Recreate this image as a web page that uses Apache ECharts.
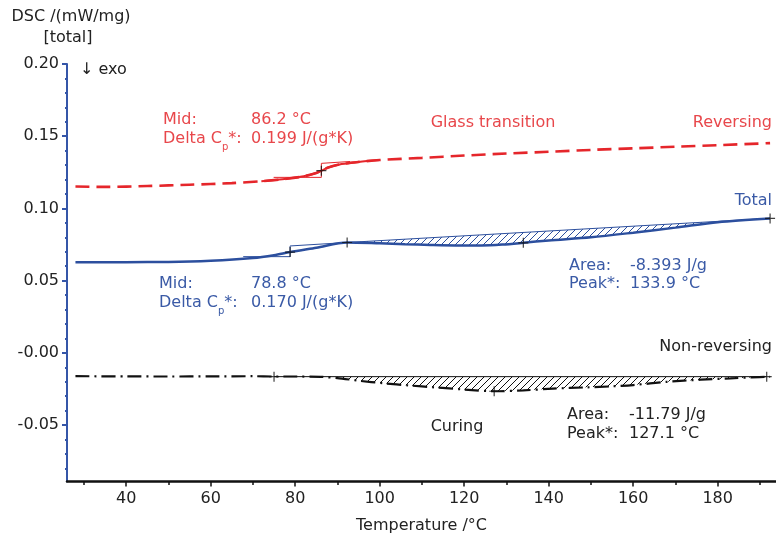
<!DOCTYPE html>
<html>
<head>
<meta charset="utf-8">
<script src="https://cdn.jsdelivr.net/npm/echarts@6/dist/echarts.min.js"></script>
<style>html,body{margin:0;padding:0;background:#fff}#c{width:776px;height:534px}</style>
</head>
<body>
<div id="c"></div>
<script>
// ---- data ----
const xTickLabels = [40, 60, 80, 100, 120, 140, 160, 180];
const xMinorTicks = [30, 50, 70, 90, 110, 130, 150, 170, 190];
const yTickLabels = [-0.05, 0, 0.05, 0.10, 0.15, 0.20];
const yMinorTicks = [-0.08, -0.07, -0.06, -0.04, -0.03, -0.02, -0.01, 0.01, 0.02, 0.03, 0.04, 0.06, 0.07, 0.08, 0.09, 0.11, 0.12, 0.13, 0.14, 0.16, 0.17, 0.18, 0.19];

const tempRev = [28, 35, 45, 55, 65, 72, 78, 82, 85, 86.2, 88, 91, 95, 100, 110, 120, 130, 140, 150, 160, 170, 180, 192.4];
const valRev  = [0.1152, 0.1149, 0.1155, 0.1164, 0.1175, 0.1188, 0.1205, 0.1222, 0.1245, 0.1261, 0.1285, 0.1307, 0.1322, 0.1335, 0.1350, 0.1366, 0.1380, 0.1392, 0.1405, 0.1416, 0.1427, 0.1438, 0.1452];

const tempTotal = [28, 40, 50, 60, 70, 75, 78.8, 85, 92.3, 100, 106, 112, 118, 124, 129, 134, 140, 150, 160, 170, 180, 192.4];
const valTotal  = [0.0628, 0.0628, 0.0629, 0.0637, 0.0656, 0.0676, 0.0698, 0.0728, 0.0764, 0.0758, 0.0752, 0.0747, 0.0744, 0.0744, 0.0750, 0.0762, 0.0778, 0.0800, 0.0832, 0.0867, 0.0905, 0.0931];

const tempNR = [28, 40, 50, 60, 70, 75, 80, 86, 90, 95, 101, 107, 113, 120, 127, 134, 141, 149, 155, 160, 168, 176, 183, 188, 192.4];
const valNR  = [-0.0162, -0.0163, -0.0164, -0.0163, -0.0162, -0.0164, -0.0164, -0.0166, -0.0175, -0.0193, -0.0211, -0.0226, -0.0239, -0.0254, -0.0266, -0.0260, -0.0248, -0.0239, -0.0232, -0.0223, -0.0201, -0.0186, -0.0177, -0.0170, -0.0166];

const totalBaseT = [92.3, 192.4];
const totalBaseV = [0.0764, 0.0931];
const nrBaseT = [75, 191.6];
const nrBaseV = [-0.0165, -0.0165];

const revStepT = [74.9, 86.2, 86.2, 93];
const revStepV = [0.1215, 0.1215, 0.1312, 0.1325];
const totalStepT = [67.7, 78.8, 78.8, 92.3];
const totalStepV = [0.0666, 0.0666, 0.0740, 0.0764];

const markRevT = [86.2];
const markRevV = [0.1261];
const markTotalT = [78.8, 92.3, 134.0, 192.4];
const markTotalV = [0.0698, 0.0764, 0.0762, 0.0931];
const markNRT = [75, 127.1, 191.6];
const markNRV = [-0.0165, -0.0266, -0.0165];

// ---- helpers ----
const zip = (a, b) => a.map((v, i) => [v, b[i]]);
const RED = '#e5262b', BLUE = '#2c4f9e', BLACK = '#111';
const TXT_RED = '#e8474b', TXT_BLUE = '#3a5aa6';
const FONT = 'DejaVu Sans';

function hatch(color) {
  const c = document.createElement('canvas');
  c.width = 7; c.height = 7;
  const g = c.getContext('2d');
  g.strokeStyle = color; g.lineWidth = 1;
  g.beginPath();
  g.moveTo(-1, 8); g.lineTo(8, -1);
  g.moveTo(-1, 1); g.lineTo(1, -1);
  g.moveTo(6, 8); g.lineTo(8, 6);
  g.stroke();
  return c;
}

function regionPoints(baseT, baseV, curveT, curveV) {
  const t0 = baseT[0], t1 = baseT[1];
  const pts = [[t0, baseV[0]], [t1, baseV[1]]];
  for (let i = curveT.length - 1; i >= 0; i--) {
    if (curveT[i] > t0 && curveT[i] < t1) pts.push([curveT[i], curveV[i]]);
  }
  return pts;
}

function hatchSeries(pts, color) {
  return {
    type: 'custom', silent: true, z: 1,
    data: pts,
    clip: true,
    renderItem: function (params, api) {
      if (params.dataIndex !== 0) return null;
      const poly = pts.map(p => api.coord(p));
      return {
        type: 'polygon',
        shape: { points: poly, smooth: 0 },
        style: { fill: { image: hatch(color), repeat: 'repeat' }, stroke: null }
      };
    }
  };
}

const crossSymbol = 'path://M0,5L10,5M5,0L5,10';
function markSeries(t, v) {
  return {
    type: 'scatter', data: zip(t, v), symbol: crossSymbol, symbolSize: 10, z: 10,
    itemStyle: { color: 'none', borderColor: BLACK, borderWidth: 1.2 }, silent: true
  };
}

const chart = echarts.init(document.getElementById('c'), null, { renderer: 'canvas' });

const txt = (text, x, y, color, align, extra) => Object.assign({
  type: 'text', x: x, y: y, silent: true,
  style: Object.assign({ text: text, fill: color, fontSize: 16, fontFamily: FONT, align: align || 'left', verticalAlign: 'middle' }, extra || {})
});

const subRich = { sub: { fontSize: 10, fontFamily: FONT, verticalAlign: 'bottom', lineHeight: 26 } };

// solid overlay of the reversing curve through the glass transition
const revSolid = zip(tempRev, valRev).filter(p => p[0] >= 70 && p[0] <= 100);

const option = {
  animation: false,
  backgroundColor: '#fff',
  grid: { left: 67, top: 64, width: 709, height: 417.5, containLabel: false, outerBoundsMode: 'none' },
  xAxis: [{
    type: 'value', min: 26, max: 193.8,
    axisLine: { show: true, onZero: false, lineStyle: { color: BLACK, width: 2.5 } },
    axisTick: { show: true, length: 5, lineStyle: { color: BLACK, width: 1.5 }, customValues: xTickLabels },
    axisLabel: { customValues: xTickLabels, color: '#222', fontSize: 16, fontFamily: FONT, margin: 9 },
    splitLine: { show: false },
    name: 'Temperature /°C', nameLocation: 'middle', nameGap: 36,
    nameTextStyle: { color: '#222', fontSize: 16, fontFamily: FONT }
  }, {
    type: 'value', min: 26, max: 193.8, position: 'bottom', offset: 0,
    axisLine: { show: false, onZero: false },
    axisTick: { show: true, length: 3.5, lineStyle: { color: BLACK, width: 1.5 }, customValues: xMinorTicks },
    axisLabel: { show: false }, splitLine: { show: false }
  }],
  yAxis: [{
    type: 'value', min: -0.0891, max: 0.20,
    axisLine: { show: true, onZero: false, lineStyle: { color: '#3556a8', width: 2 } },
    axisTick: { show: true, length: 5, lineStyle: { color: '#3556a8', width: 2 }, customValues: yTickLabels },
    axisLabel: {
      customValues: yTickLabels, color: '#222', fontSize: 16, fontFamily: FONT, margin: 8,
      formatter: v => (Math.abs(v) < 1e-9 ? '-0.00' : v.toFixed(2))
    },
    splitLine: { show: false }
  }, {
    type: 'value', min: -0.0891, max: 0.20, position: 'left', offset: 0,
    axisLine: { show: false, onZero: false },
    axisTick: { show: true, length: 2, lineStyle: { color: '#3556a8', width: 2 }, customValues: yMinorTicks },
    axisLabel: { show: false }, splitLine: { show: false }
  }],
  series: [
    hatchSeries(regionPoints(totalBaseT, totalBaseV, tempTotal, valTotal), BLUE),
    hatchSeries(regionPoints(nrBaseT, nrBaseV, tempNR, valNR), BLACK),
    { type: 'line', data: zip(tempRev, valRev), smooth: 0.3, showSymbol: false, z: 3,
      lineStyle: { color: RED, width: 2.6, type: [14, 7] } },
    { type: 'line', data: revSolid, smooth: 0.3, showSymbol: false, z: 3,
      lineStyle: { color: RED, width: 2 } },
    { type: 'line', data: zip(tempTotal, valTotal), smooth: 0.3, showSymbol: false, z: 3,
      lineStyle: { color: BLUE, width: 2.5 } },
    { type: 'line', data: zip(tempNR, valNR), smooth: 0.3, showSymbol: false, z: 3,
      lineStyle: { color: BLACK, width: 2.2, type: [14, 5, 2, 5] } },
    { type: 'line', data: zip(totalBaseT, totalBaseV), showSymbol: false, z: 2,
      lineStyle: { color: BLUE, width: 1 } },
    { type: 'line', data: zip(nrBaseT, nrBaseV), showSymbol: false, z: 2,
      lineStyle: { color: BLACK, width: 1 } },
    { type: 'line', data: zip(revStepT, revStepV), showSymbol: false, z: 2,
      lineStyle: { color: RED, width: 1 } },
    { type: 'line', data: zip(totalStepT, totalStepV), showSymbol: false, z: 2,
      lineStyle: { color: BLUE, width: 1 } },
    markSeries(markRevT, markRevV),
    markSeries(markTotalT, markTotalV),
    markSeries(markNRT, markNRV)
  ],
  graphic: [
    txt('DSC /(mW/mg)', 71, 17, '#222', 'center'),
    txt('[total]', 68, 38, '#222', 'center'),
    txt('↓ exo', 80, 70, '#222', 'left'),
    txt('Mid:', 163, 120, TXT_RED),
    txt('86.2 °C', 251, 120, TXT_RED),
    txt('Delta C{sub|p}*:', 163, 139, TXT_RED, 'left', { rich: subRich }),
    txt('0.199 J/(g*K)', 251, 139, TXT_RED),
    txt('Glass transition', 493, 123, TXT_RED, 'center'),
    txt('Reversing', 772, 123, TXT_RED, 'right'),
    txt('Total', 772, 201, TXT_BLUE, 'right'),
    txt('Mid:', 159, 284, TXT_BLUE),
    txt('78.8 °C', 251, 284, TXT_BLUE),
    txt('Delta C{sub|p}*:', 159, 303, TXT_BLUE, 'left', { rich: subRich }),
    txt('0.170 J/(g*K)', 251, 303, TXT_BLUE),
    txt('Area:', 569, 266, TXT_BLUE),
    txt('-8.393 J/g', 630, 266, TXT_BLUE),
    txt('Peak*:', 569, 284, TXT_BLUE),
    txt('133.9 °C', 630, 284, TXT_BLUE),
    txt('Non-reversing', 772, 347, '#222', 'right'),
    txt('Curing', 457, 427, '#222', 'center'),
    txt('Area:', 567, 415, '#222'),
    txt('-11.79 J/g', 629, 415, '#222'),
    txt('Peak*:', 567, 434, '#222'),
    txt('127.1 °C', 629, 434, '#222')
  ]
};
chart.setOption(option);
</script>
</body>
</html>
